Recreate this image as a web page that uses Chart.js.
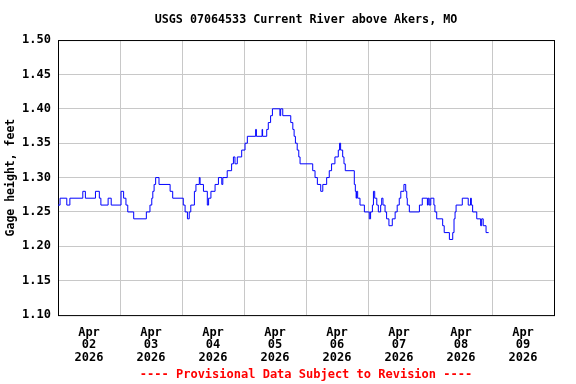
<!DOCTYPE html>
<html>
<head>
<meta charset="utf-8">
<script src="https://cdn.jsdelivr.net/npm/chart.js@4/dist/chart.umd.min.js"></script>
<style>
  body { margin: 0; background: #fff; }
  #wrap { width: 576px; height: 384px; }
</style>
</head>
<body>
<div id="wrap"><canvas id="gage" width="576" height="384"></canvas></div>
<script>
// hours since Apr 02 2026 00:00, and the gage reading that starts at that hour
const hours = [0, 0.8, 3.4, 4.6, 9.6, 10.6, 14.5, 16.0, 16.6, 19.4, 20.6, 24.4, 25.4, 26.3, 27.0, 29.3,
  34.2, 35.6, 36.3, 36.7, 37.2, 37.8, 39.1, 43.4, 44.4, 48.5, 49.2, 50.1, 50.8, 51.4, 52.8, 53.4,
  54.7, 55.0, 56.3, 57.8, 58.3, 59.2, 60.8, 62.1, 63.4, 63.8, 65.5, 67.2, 67.9, 68.5, 69.4, 71.1,
  72.4, 73.3, 76.5, 76.8, 79.0, 79.2, 80.8, 81.4, 82.3, 83.0, 85.9, 86.2, 87.0, 90.1, 90.9, 91.4,
  91.9, 92.6, 93.2, 93.7, 98.6, 99.5, 100.4, 101.7, 102.5, 104.0, 105.0, 105.9, 107.2, 108.5, 109.0,
  109.4, 110.2, 110.7, 111.2, 114.7, 115.1, 115.4, 115.6, 116.0, 116.9, 118.6, 120.5, 121.0, 121.7,
  122.1, 122.6, 123.4, 124.0, 124.9, 125.3, 125.8, 126.6, 127.2, 128.1, 129.4, 130.5, 131.3, 132.1,
  132.7, 133.9, 134.6, 135.0, 135.2, 136.0, 139.9, 141.0, 143.0, 143.3, 143.7, 144.3, 145.5, 145.9,
  146.6, 148.9, 149.5, 151.5, 152.8, 153.3, 153.7, 154.1, 156.5, 158.8, 159.7, 160.0, 160.5, 162.1,
  163.6, 164.0, 164.6, 165.7, 166.7];
const gage = [1.26, 1.27, 1.26, 1.27, 1.28, 1.27, 1.28, 1.27, 1.26, 1.27, 1.26, 1.28, 1.27, 1.26, 1.25, 1.24,
  1.25, 1.26, 1.27, 1.28, 1.29, 1.30, 1.29, 1.28, 1.27, 1.26, 1.25, 1.24, 1.25, 1.26, 1.28, 1.29,
  1.30, 1.29, 1.28, 1.26, 1.27, 1.28, 1.29, 1.30, 1.29, 1.30, 1.31, 1.32, 1.33, 1.32, 1.33, 1.34,
  1.35, 1.36, 1.37, 1.36, 1.37, 1.36, 1.37, 1.38, 1.39, 1.40, 1.39, 1.40, 1.39, 1.38, 1.37, 1.36,
  1.35, 1.34, 1.33, 1.32, 1.31, 1.30, 1.29, 1.28, 1.29, 1.30, 1.31, 1.32, 1.33, 1.34, 1.35,
  1.34, 1.33, 1.32, 1.31, 1.29, 1.28, 1.27, 1.28, 1.27, 1.26, 1.25, 1.24, 1.25, 1.26,
  1.28, 1.27, 1.26, 1.25, 1.26, 1.27, 1.26, 1.25, 1.24, 1.23, 1.24, 1.25, 1.26, 1.27,
  1.28, 1.29, 1.28, 1.27, 1.26, 1.25, 1.26, 1.27, 1.26, 1.27, 1.26, 1.27, 1.26, 1.25,
  1.24, 1.23, 1.22, 1.21, 1.22, 1.24, 1.25, 1.26, 1.27, 1.26, 1.27, 1.26, 1.25, 1.24,
  1.23, 1.24, 1.23, 1.22, 1.22];

const dayLabels = ["02", "03", "04", "05", "06", "07", "08", "09"];
const monthLabel = "Apr";
const yearLabel = "2026";
const yTicks = [1.10, 1.15, 1.20, 1.25, 1.30, 1.35, 1.40, 1.45, 1.50];

const mono = "'DejaVu Sans Mono', 'Liberation Mono', monospace";

const frame = {
  id: "frame",
  beforeDatasetsDraw(chart) {
    const { ctx, chartArea: a } = chart;
    ctx.save();
    ctx.strokeStyle = "#000";
    ctx.lineWidth = 1;
    ctx.strokeRect(a.left + 0.5, a.top + 0.5, a.right - a.left, a.bottom - a.top);
    ctx.restore();
  },
};

new Chart(document.getElementById("gage"), {
  type: "line",
  data: {
    datasets: [
      {
        data: hours.map((h, i) => ({ x: h, y: gage[i] })),
        borderColor: "#0000ff",
        borderWidth: 1,
        pointRadius: 0,
        stepped: true,
        fill: false,
      },
    ],
  },
  options: {
    responsive: false,
    animation: false,
    layout: { padding: { left: 0, right: 22, top: 0, bottom: 0 } },
    plugins: {
      legend: { display: false },
      tooltip: { enabled: false },
      title: {
        display: true,
        text: "USGS 07064533 Current River above Akers, MO",
        color: "#000",
        fullSize: false,
        font: { family: mono, size: 11.7, weight: "bold", lineHeight: 1.2 },
        padding: { top: 12.5, bottom: 13.5 },
      },
      subtitle: {
        display: true,
        position: "bottom",
        text: "---- Provisional Data Subject to Revision ----",
        color: "#ff0000",
        fullSize: false,
        font: { family: mono, size: 12, weight: "bold", lineHeight: 1.2 },
        padding: { top: 0, bottom: 1.5 },
      },
    },
    scales: {
      x: {
        type: "linear",
        min: 0,
        max: 192,
        afterBuildTicks: (scale) => {
          scale.ticks = dayLabels.map((d, i) => ({ value: 12 + 24 * i }));
        },
        afterFit: (scale) => {
          scale.height = 53;
        },
        grid: { color: "#c8c8c8", lineWidth: 1, offset: true, drawTicks: false },
        border: { display: false },
        ticks: {
          autoSkip: false,
          maxRotation: 0,
          padding: 11,
          color: "#000",
          font: { family: mono, size: 12, weight: "bold", lineHeight: 1.05 },
          callback: (v, i) => [monthLabel, dayLabels[i], yearLabel],
        },
      },
      y: {
        min: 1.1,
        max: 1.5,
        afterBuildTicks: (scale) => {
          scale.ticks = yTicks.map((v) => ({ value: v }));
        },
        afterFit: (scale) => {
          scale.width = 58;
        },
        grid: { color: "#c8c8c8", lineWidth: 1, drawTicks: false },
        border: { display: false },
        title: {
          display: true,
          text: "Gage height, feet",
          color: "#000",
          font: { family: mono, size: 11.5, weight: "bold" },
          padding: { top: 4, bottom: 0 },
        },
        ticks: {
          padding: 7,
          color: "#000",
          font: { family: mono, size: 12, weight: "bold" },
          callback: (v) => Number(v).toFixed(2),
        },
      },
    },
  },
  plugins: [frame],
});
</script>
</body>
</html>
